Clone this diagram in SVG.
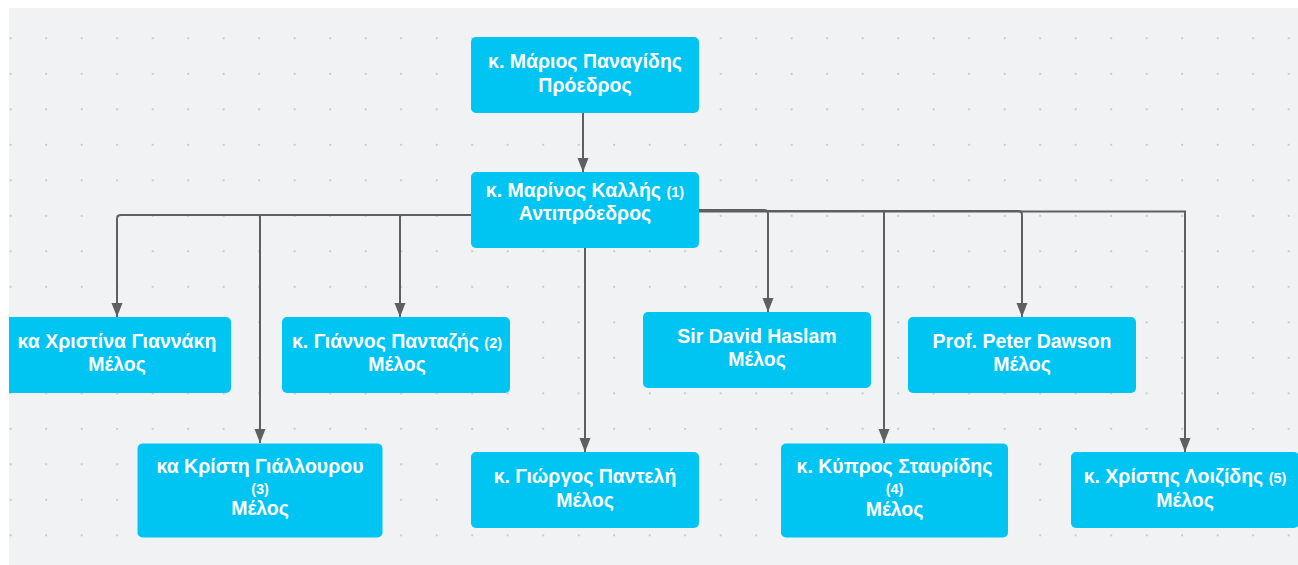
<svg xmlns="http://www.w3.org/2000/svg" width="1298" height="565" viewBox="0 0 1298 565">
<defs>
<style>
.box{fill:#00c5f2;}
.t{font-family:"Liberation Sans",Arial,sans-serif;font-weight:bold;font-size:19.5px;fill:#ffffff;text-anchor:middle;}
.s{font-size:14.5px;}
.c{fill:none;stroke:#5f5f5f;stroke-width:2;}
.a{marker-end:url(#arr);}
</style>
<pattern id="dots" patternUnits="userSpaceOnUse" x="-7.05" y="20.55" width="35.5" height="35.5">
<circle cx="17.75" cy="17.75" r="0.9" fill="#b4b8be"/>
</pattern>
<marker id="arr" markerUnits="userSpaceOnUse" markerWidth="15" markerHeight="12" refX="14" refY="5.5" orient="auto">
<path d="M0,0 L14,5.5 L0,11 Z" fill="#5f5f5f"/>
</marker>
<clipPath id="area"><rect x="9" y="8" width="1289" height="557"/></clipPath>
</defs>
<rect x="0" y="0" width="1298" height="565" fill="#ffffff"/>
<rect x="9" y="8" width="1289" height="557" fill="#f1f2f4"/>
<rect x="9" y="8" width="1289" height="557" fill="url(#dots)"/>
<g clip-path="url(#area)">
<g id="connectors">
<path class="c a" d="M583,113 V172"/>
<path class="c a" d="M471,215 H121 Q117,215 117,219 V317"/>
<path class="c a" d="M260,215 V443"/>
<path class="c a" d="M400,215 V317"/>
<path class="c a" d="M585,248 V452"/>
<path class="c a" d="M699,210 H764 Q768,210 768,214 V312"/>
<path class="c a" d="M699,211.5 H1185 V452"/>
<path class="c a" d="M884,211.5 V443"/>
<path class="c a" d="M699,211 H1018 Q1022,211 1022,215 V317"/>
</g>
<g id="n1"><rect class="box" x="471" y="37" width="228" height="76" rx="5"/>
<text class="t" x="585" y="68">κ. Μάριος Παναγίδης</text><text class="t" x="585" y="91.5">Πρόεδρος</text></g>
<g id="n2"><rect class="box" x="471" y="172" width="228" height="76" rx="5"/>
<text class="t" x="585" y="197.3">κ. Μαρίνος Καλλής <tspan class="s">(1)</tspan></text><text class="t" x="585" y="220">Αντιπρόεδρος</text></g>
<g id="n3"><rect class="box" x="3" y="317" width="228" height="76" rx="5"/>
<text class="t" x="117" y="348">κα Χριστίνα Γιαννάκη</text><text class="t" x="117" y="371">Μέλος</text></g>
<g id="n4"><rect class="box" x="282" y="317" width="228" height="76" rx="5"/>
<text class="t" x="397" y="348">κ. Γιάννος Πανταζής <tspan class="s">(2)</tspan></text><text class="t" x="397" y="371">Μέλος</text></g>
<g id="n5"><rect class="box" x="643" y="312" width="228" height="76" rx="5"/>
<text class="t" x="757" y="343">Sir David Haslam</text><text class="t" x="757" y="366">Μέλος</text></g>
<g id="n6"><rect class="box" x="908" y="317" width="228" height="76" rx="5"/>
<text class="t" x="1022" y="348">Prof. Peter Dawson</text><text class="t" x="1022" y="371">Μέλος</text></g>
<g id="n7"><rect class="box" x="137.5" y="443.5" width="245" height="94" rx="5"/>
<text class="t" x="260" y="473.3">κα Κρίστη Γιάλλουρου</text><text class="t s" x="260" y="494">(3)</text><text class="t" x="260" y="515">Μέλος</text></g>
<g id="n8"><rect class="box" x="471" y="452" width="228" height="76" rx="5"/>
<text class="t" x="585" y="483">κ. Γιώργος Παντελή</text><text class="t" x="585" y="507">Μέλος</text></g>
<g id="n9"><rect class="box" x="781" y="443.5" width="227" height="94" rx="5"/>
<text class="t" x="894.5" y="473.3">κ. Κύπρος Σταυρίδης</text><text class="t s" x="894.5" y="494">(4)</text><text class="t" x="894.5" y="516">Μέλος</text></g>
<g id="n10"><rect class="box" x="1071" y="452" width="228" height="76" rx="5"/>
<text class="t" x="1185" y="483">κ. Χρίστης Λοιζίδης <tspan class="s">(5)</tspan></text><text class="t" x="1185" y="507">Μέλος</text></g>
</g>
</svg>
